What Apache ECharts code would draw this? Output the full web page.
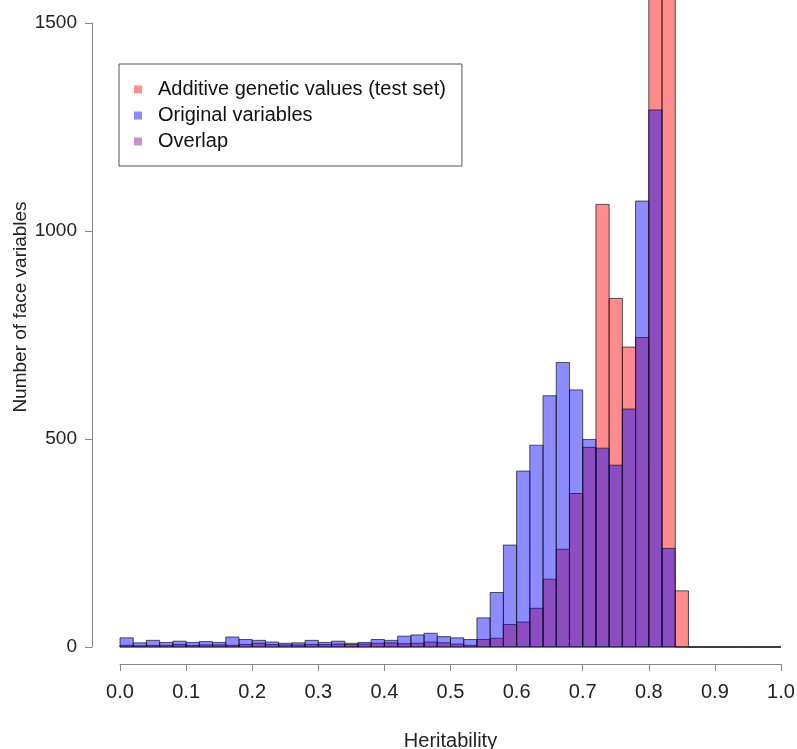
<!DOCTYPE html>
<html><head><meta charset="utf-8">
<script src="https://cdn.jsdelivr.net/npm/echarts@6/dist/echarts.min.js"></script>
<style>html,body{margin:0;padding:0;background:#fff}#c{width:797px;height:749px}</style>
</head><body><div id="c"></div><script>
const binEdges = [0.00,0.02,0.04,0.06,0.08,0.10,0.12,0.14,0.16,0.18,0.20,0.22,0.24,0.26,0.28,0.30,0.32,0.34,0.36,0.38,0.40,0.42,0.44,0.46,0.48,0.50,0.52,0.54,0.56,0.58,0.60,0.62,0.64,0.66,0.68,0.70,0.72,0.74,0.76,0.78,0.80,0.82,0.84,0.86,0.88,0.90,0.92,0.94,0.96,0.98,1.00];
const additiveCounts = [4,3,4,4,6,4,5,5,4,6,9,6,5,5,6,6,7,9,7,9,10,8,9,12,10,7,4,18,21,54,60,93,163,235,369,480,1064,838,721,744,1750,1900,135,0,0,0,0,0,0,0];
const originalCounts = [22,10,16,11,14,11,13,11,24,18,16,12,9,10,16,11,14,6,11,18,16,26,29,33,25,22,18,70,131,245,423,485,604,684,618,499,478,437,572,1072,1291,237,0,0,0,0,0,0,0,0];
const xTicks = ['0.0','0.1','0.2','0.3','0.4','0.5','0.6','0.7','0.8','0.9','1.0'];
const yTicks = [0,500,1000,1500];
const seriesNames = ['Additive genetic values (test set)','Original variables','Overlap'];

const FONT = 'Liberation Sans';
function toItems(counts){
  return counts.map((c,i)=>[binEdges[i], binEdges[i+1], c]);
}
function makeRender(fill){
  return function(params, api){
    const p0 = api.coord([api.value(0), api.value(2)]);
    const p1 = api.coord([api.value(1), 0]);
    return {type:'rect', shape:{x:p0[0], y:p0[1], width:p1[0]-p0[0], height:p1[1]-p0[1]},
      style:{fill:fill, stroke:'rgba(20,20,20,0.7)', lineWidth:1}};
  };
}
const chart = echarts.init(document.getElementById('c'));
chart.setOption({
  animation:false,
  backgroundColor:'#fff',
  grid:{left:120, right:16, top:23, bottom:102, containLabel:false, outerBoundsMode:'none'},
  xAxis:{type:'value', min:0, max:1, interval:0.1, offset:17,
    axisLine:{show:true, onZero:false, lineStyle:{color:'#888', width:1}},
    axisTick:{show:true, length:7, lineStyle:{color:'#888'}},
    splitLine:{show:false},
    axisLabel:{fontSize:20, fontFamily:FONT, color:'#222', margin:18,
      formatter:(v)=>{const i=Math.round(v*10); return xTicks[i];}},
    name:'Heritability', nameLocation:'middle', nameGap:67, nameMoveOverlap:false,
    nameTextStyle:{fontSize:20, fontFamily:FONT, color:'#222'}},
  yAxis:{type:'value', min:yTicks[0], max:yTicks[yTicks.length-1], interval:500, offset:28,
    axisLine:{show:true, onZero:false, lineStyle:{color:'#888', width:1}},
    axisTick:{show:true, length:7, lineStyle:{color:'#888'}},
    splitLine:{show:false},
    axisLabel:{fontSize:19, fontFamily:FONT, color:'#222', margin:15, formatter:(v)=>String(v)},
    name:'Number of face variables', nameLocation:'middle', nameGap:62, nameRotate:90, nameMoveOverlap:false,
    nameTextStyle:{fontSize:19, fontFamily:FONT, color:'#222', padding:[0,0,0,56]}},
  legend:{left:119, top:64, orient:'vertical', padding:[15,16,14,15], itemGap:5,
    itemWidth:8, itemHeight:8, icon:'rect', borderColor:'#555', borderWidth:1,
    selectedMode:false,
    textStyle:{fontSize:20, fontFamily:FONT, color:'#111', lineHeight:20, padding:[1,0,0,11]},
    data:[
      {name:seriesNames[0], itemStyle:{color:'#ff8c8c'}},
      {name:seriesNames[1], itemStyle:{color:'#8c8cff'}},
      {name:seriesNames[2], itemStyle:{color:'#c98fca'}}
    ]},
  series:[
    {name:seriesNames[0], type:'custom', clip:false, itemStyle:{color:'#ff8c8c'},
      renderItem:makeRender('rgba(255,0,0,0.45)'), encode:{x:[0,1], y:2}, data:toItems(additiveCounts)},
    {name:seriesNames[1], type:'custom', clip:false, itemStyle:{color:'#8c8cff'},
      renderItem:makeRender('rgba(0,0,255,0.45)'), encode:{x:[0,1], y:2}, data:toItems(originalCounts)},
    {name:seriesNames[2], type:'custom', itemStyle:{color:'#c98fca'},
      renderItem:()=>null, data:[]}
  ]
});
</script></body></html>
